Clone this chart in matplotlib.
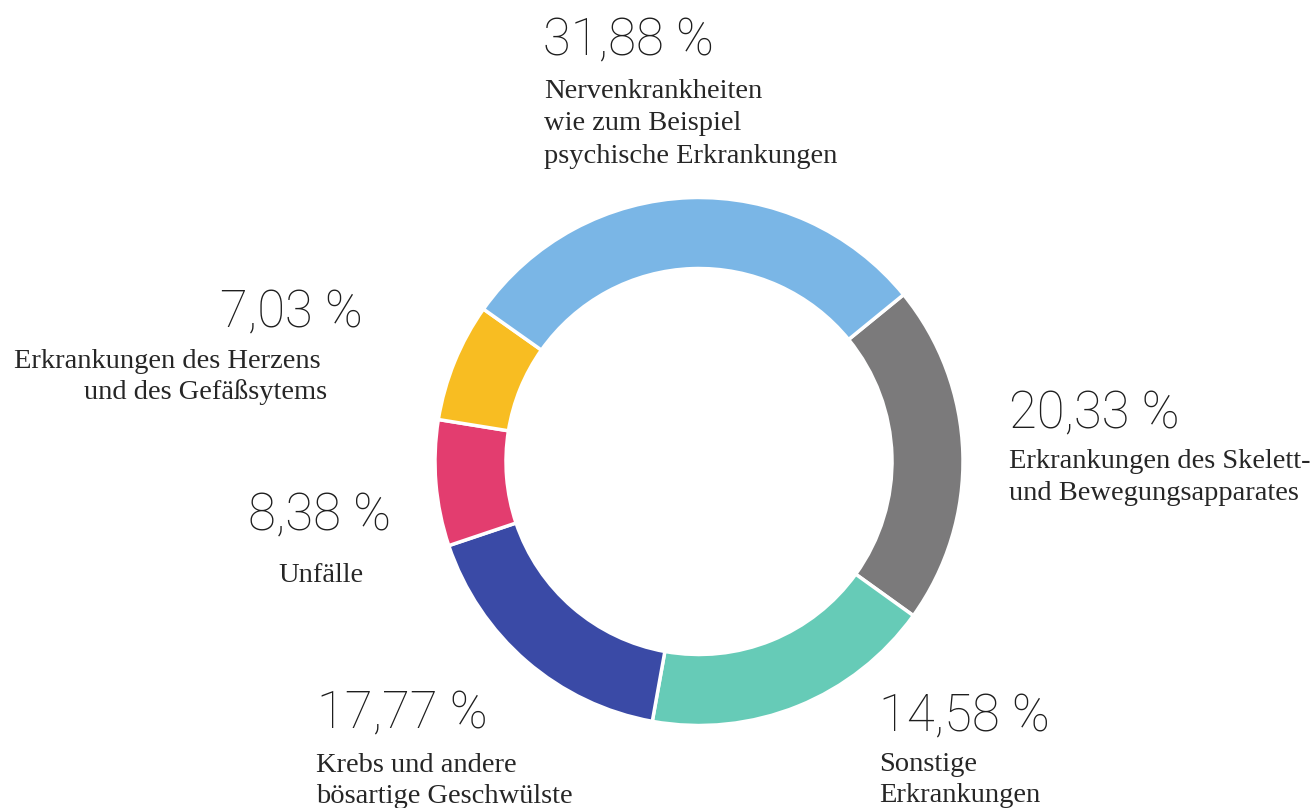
import matplotlib
matplotlib.use("Agg")
import matplotlib.pyplot as plt

# Printed values (labels) and the drawn arc sizes
categories = [
    "Erkrankungen des Skelett-\nund Bewegungsapparates",
    "Sonstige\nErkrankungen",
    "Krebs und andere\nbösartige Geschwülste",
    "Unfälle",
    "Erkrankungen des Herzens\nund des Gefäßsytems",
    "Nervenkrankheiten\nwie zum Beispiel\npsychische Erkrankungen",
]
pct_labels = ["20,33 %", "14,58 %", "17,77 %", "8,38 %", "7,03 %", "31,88 %"]
arc_shares = [20.8, 17.9, 17.0, 7.7, 7.25, 29.3]
colors = ["#7B7A7B", "#66CBB7", "#3A4AA6", "#E33D6F", "#F8BD22", "#7AB6E6"]

W, H = 1312, 808
fig = plt.figure(figsize=(W / 100, H / 100), dpi=100)
ax = fig.add_axes([0, 0, 1, 1])

ax.pie(arc_shares, colors=colors, startangle=39.2, counterclock=False,
       radius=264, center=(699, H - 461.5),
       wedgeprops=dict(width=71, edgecolor="white", linewidth=2.5))
ax.set_xlim(0, W)
ax.set_ylim(0, H)
ax.set_aspect("equal")
ax.axis("off")

num_font = dict(family=["Roboto", "DejaVu Sans"], fontweight="light",
                fontsize=36.5, color="#1e1e1e")
lab_font = dict(family=["Liberation Serif", "DejaVu Serif"], fontsize=20.5,
                color="#262626")

def num(txt, x, base, ha="left"):
    ax.text(x, H - base, txt, ha=ha, va="baseline", **num_font)

def lab(txt, x, base, ha="left"):
    ax.text(x, H - base, txt, ha=ha, va="baseline", **lab_font)

# Nervenkrankheiten (top)
num(pct_labels[5], 543, 55)
for i, line in enumerate(categories[5].split("\n")):
    lab(line, 544, 98 + 32.5 * i)

# Skelett (right)
num(pct_labels[0], 1009, 428.5)
for i, line in enumerate(categories[0].split("\n")):
    lab(line, 1009, 468 + 32.5 * i)

# Sonstige (bottom right)
num(pct_labels[1], 879, 731)
for i, line in enumerate(categories[1].split("\n")):
    lab(line, 879, 771 + 31.5 * i)

# Krebs (bottom left)
num(pct_labels[2], 317, 728)
for i, line in enumerate(categories[2].split("\n")):
    lab(line, 316, 771.5 + 31.5 * i)

# Unfälle (left)
num(pct_labels[3], 391, 530, ha="right")
lab(categories[3], 364, 582, ha="right")

# Herz (upper left)
num(pct_labels[4], 363, 327, ha="right")
herz = categories[4].split("\n")
lab(herz[0], 321, 368.5, ha="right")
lab(herz[1], 327, 399, ha="right")

fig.savefig("out.png", dpi=100, facecolor="white")
